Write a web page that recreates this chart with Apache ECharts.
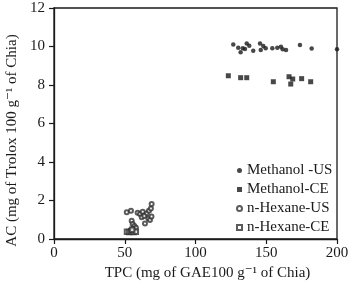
<!DOCTYPE html>
<html>
<head>
<meta charset="utf-8">
<script src="https://cdn.jsdelivr.net/npm/echarts@6/dist/echarts.min.js"></script>
<style>
  html, body { margin: 0; padding: 0; background: #fff; }
  #chart { width: 351px; height: 283px; }
</style>
</head>
<body>
<div id="chart"></div>
<script>
// Methanol - ultrasound
const methanolUS = [
  [126.7, 10.11], [130.2, 9.94], [131.9, 9.70], [133.4, 9.91], [135.0, 9.87],
  [136.2, 10.15], [138.0, 10.04], [140.8, 9.78], [145.6, 10.15], [146.1, 9.82],
  [147.9, 10.03], [149.6, 9.91], [154.3, 9.91], [157.8, 9.94], [160.4, 9.99],
  [161.6, 9.86], [164.0, 9.82], [173.8, 10.08], [182.1, 9.89], [200.0, 9.86]
];
// Methanol - conventional extraction
const methanolCE = [
  [123.2, 8.48], [131.9, 8.38], [136.2, 8.38], [155.0, 8.17], [166.1, 8.43],
  [168.7, 8.31], [167.3, 8.05], [175.0, 8.33], [181.4, 8.17]
];
// n-Hexane - ultrasound
const hexaneUS = [
  [51.4, 1.39], [54.4, 1.47], [59.1, 1.37], [60.8, 1.30], [62.7, 1.42],
  [65.5, 1.33], [67.1, 1.47], [68.5, 1.59], [69.0, 1.82], [62.0, 1.13],
  [63.8, 1.20], [66.7, 1.07], [67.8, 0.99], [68.9, 1.17], [64.3, 0.81],
  [54.9, 0.95], [55.6, 0.78], [56.8, 0.68], [57.9, 0.59], [55.6, 0.52], [54.1, 0.43]
];
// n-Hexane - conventional extraction
const hexaneCE = [
  [51.6, 0.38], [53.2, 0.36], [54.6, 0.40], [56.2, 0.37], [57.8, 0.38], [55.2, 0.48]
];

const seriesNames = ['Methanol -US', 'Methanol-CE', 'n-Hexane-US', 'n-Hexane-CE'];
const xTicks = { min: 0, max: 200, interval: 50 };
const yTicks = { min: 0, max: 12, interval: 2 };

const font = '"Liberation Serif", "DejaVu Serif", serif';
const ink = '#1a1a1a';

const myChart = echarts.init(document.getElementById('chart'), null, { renderer: 'canvas' });

const axisCommon = {
  axisLine: { show: true, lineStyle: { color: ink, width: 1.3 } },
  axisTick: { show: true, inside: false, length: 5, lineStyle: { color: ink, width: 1.2 } },
  splitLine: { show: false },
  axisLabel: { color: ink, fontFamily: font, fontSize: 15 },
  nameLocation: 'middle',
  nameTextStyle: { color: ink, fontFamily: font, fontSize: 15 }
};

const option = {
  animation: false,
  textStyle: { fontFamily: font },
  grid: {
    show: true,
    left: 54, right: 14, top: 8, bottom: 44,
    outerBoundsMode: 'none',
    containLabel: false,
    borderColor: ink, borderWidth: 1.3,
    backgroundColor: 'transparent'
  },
  legend: {
    orient: 'vertical',
    left: 231,
    top: 158,
    itemWidth: 5,
    itemHeight: 5,
    itemGap: 4,
    textStyle: { color: ink, fontFamily: font, fontSize: 15, lineHeight: 15 },
    data: seriesNames
  },
  xAxis: Object.assign({}, axisCommon, {
    type: 'value',
    min: xTicks.min, max: xTicks.max, interval: xTicks.interval,
    axisLabel: Object.assign({}, axisCommon.axisLabel, { margin: 7 }),
    name: 'TPC (mg of GAE100 g\u207B\u00B9 of Chia)',
    nameGap: 24,
    nameTextStyle: Object.assign({}, axisCommon.nameTextStyle, { padding: [0, 0, 0, 24] })
  }),
  yAxis: Object.assign({}, axisCommon, {
    type: 'value',
    min: yTicks.min, max: yTicks.max, interval: yTicks.interval,
    axisLabel: Object.assign({}, axisCommon.axisLabel, { margin: 9 }),
    name: 'AC (mg of Trolox 100 g\u207B\u00B9 of Chia)',
    nameGap: 34,
    nameTextStyle: Object.assign({}, axisCommon.nameTextStyle, { padding: [0, 34, 0, 0] })
  }),
  series: [
    {
      name: seriesNames[0], type: 'scatter', data: methanolUS,
      symbol: 'circle', symbolSize: 4.5,
      itemStyle: { color: ink }
    },
    {
      name: seriesNames[1], type: 'scatter', data: methanolCE,
      symbol: 'rect', symbolSize: 5,
      itemStyle: { color: ink }
    },
    {
      name: seriesNames[2], type: 'scatter', data: hexaneUS,
      symbol: 'emptyCircle', symbolSize: 4,
      itemStyle: { color: '#333', borderWidth: 0.8 }
    },
    {
      name: seriesNames[3], type: 'scatter', data: hexaneCE,
      symbol: 'emptyRect', symbolSize: 4.5,
      itemStyle: { color: '#333', borderWidth: 0.8 }
    }
  ]
};

myChart.setOption(option);
window.addEventListener('resize', () => {
  myChart.resize();
});
</script>
</body>
</html>
